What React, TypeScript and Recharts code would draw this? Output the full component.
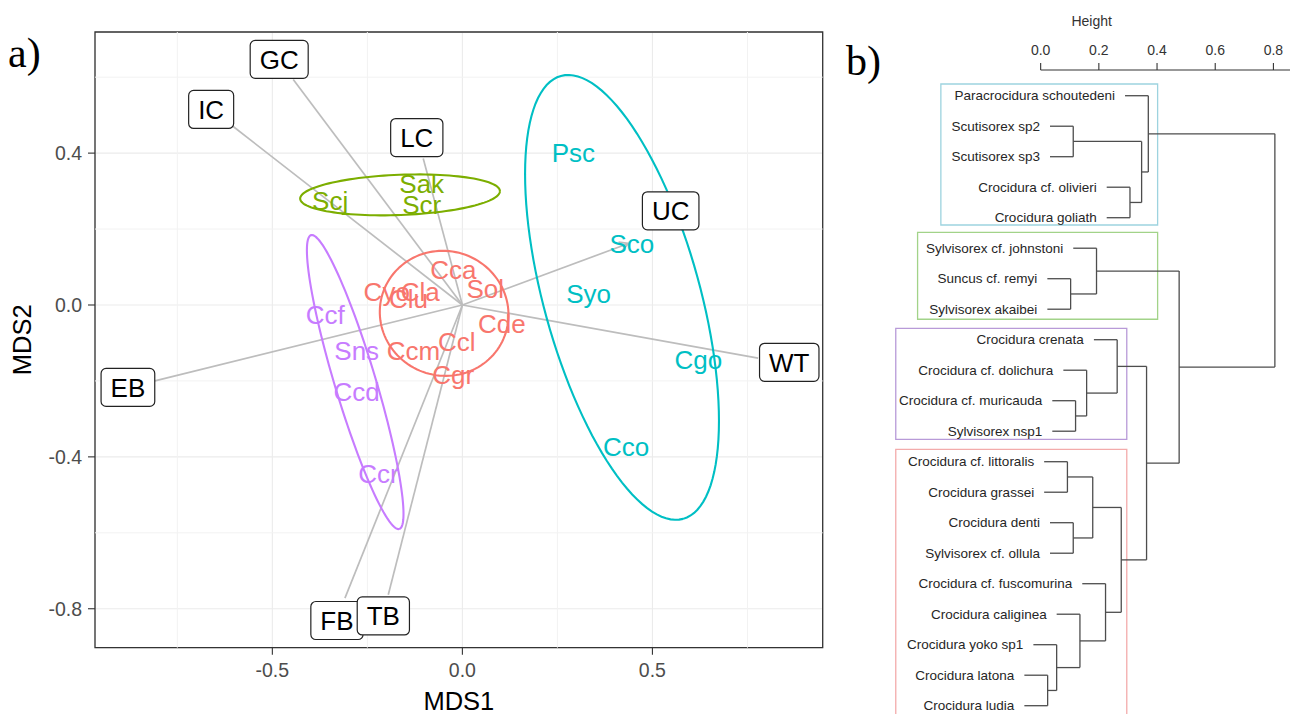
import {
  ComposedChart,
  Scatter,
  XAxis,
  YAxis,
  CartesianGrid,
  ReferenceLine,
  ReferenceArea,
} from 'recharts'

const FONT = '"Liberation Sans", Arial, sans-serif'
const SERIF = '"Liberation Serif", "Times New Roman", serif'

// ---------- a) NMDS biplot ----------
const groupColors = ['#F8766D', '#7CAE00', '#00BFC4', '#C77CFF']

const speciesNames = [
  'Psc', 'Sco', 'Syo', 'Cgo', 'Cco',
  'Scj', 'Sak', 'Scr',
  'Ccf', 'Sns', 'Ccd', 'Ccr',
  'Cca', 'Sol', 'Cyo', 'Cla', 'Clu', 'Cde', 'Ccl', 'Ccm', 'Cgr',
]
const speciesX = [
  0.292, 0.446, 0.332, 0.621, 0.431,
  -0.348, -0.107, -0.107,
  -0.361, -0.278, -0.278, -0.221,
  -0.024, 0.06, -0.199, -0.111, -0.142, 0.104, -0.015, -0.129, -0.024,
]
const speciesY = [
  0.4, 0.162, 0.029, -0.144, -0.373,
  0.276, 0.32, 0.263,
  -0.026, -0.119, -0.228, -0.445,
  0.092, 0.044, 0.035, 0.035, 0.018, -0.048, -0.097, -0.119, -0.184,
]
const speciesGroup = [
  2, 2, 2, 2, 2,
  1, 1, 1,
  3, 3, 3, 3,
  0, 0, 0, 0, 0, 0, 0, 0, 0,
]

// group ellipses: centre, semi axes, rotation (deg)
const ellipseCx = [-0.048, -0.164, 0.42, -0.282]
const ellipseCy = [-0.022, 0.29, 0.02, -0.203]
const ellipseA = [0.17, 0.263, 0.605, 0.404]
const ellipseB = [0.164, 0.053, 0.2055, 0.054]
const ellipseAngle = [-20, 2.2, -74.6, -73.3]

// fitted environmental vectors
const envNames = ['GC', 'IC', 'LC', 'UC', 'WT', 'EB', 'FB', 'TB']
const envX = [-0.445, -0.603, -0.103, 0.437, 0.778, -0.809, -0.309, -0.195]
const envY = [0.594, 0.47, 0.386, 0.162, -0.14, -0.2, -0.772, -0.763]
const envLabelX = [-0.482, -0.661, -0.12, 0.548, 0.86, -0.88, -0.33, -0.208]
const envLabelY = [0.647, 0.515, 0.441, 0.248, -0.151, -0.217, -0.831, -0.819]
const arrowHeads = ['UC']

const X_MIN = -0.9666
const X_MAX = 0.948
const Y_MIN = -0.9026
const Y_MAX = 0.719

const charW: Record<string, number> = {
  G: 0.778, C: 0.722, I: 0.278, L: 0.556, U: 0.722, W: 0.944, T: 0.611, E: 0.667, B: 0.667, F: 0.611,
}

function ellipsePoints(g: number) {
  const pts: { x: number; y: number }[] = []
  const t = (ellipseAngle[g] * Math.PI) / 180
  const n = 120
  for (let k = 0; k <= n; k++) {
    const u = (k / n) * 2 * Math.PI
    const ex = ellipseA[g] * Math.cos(u)
    const ey = ellipseB[g] * Math.sin(u)
    pts.push({
      x: ellipseCx[g] + ex * Math.cos(t) - ey * Math.sin(t),
      y: ellipseCy[g] + ex * Math.sin(t) + ey * Math.cos(t),
    })
  }
  return pts
}

const speciesData = speciesNames.map((name, i) => ({
  name,
  x: speciesX[i],
  y: speciesY[i],
  color: groupColors[speciesGroup[i]],
}))

const envLabelData = envNames.map((name, i) => ({ name, x: envLabelX[i], y: envLabelY[i] }))

const fmt = (v: number) => v.toFixed(1)

function arrowShape(withHead: boolean) {
  return (p: any) => {
    const { x1, y1, x2, y2 } = p
    const ang = Math.atan2(y2 - y1, x2 - x1)
    const len = 10
    const w = (28 * Math.PI) / 180
    return (
      <g>
        <line x1={x1} y1={y1} x2={x2} y2={y2} stroke="#bdbdbd" strokeWidth={1.7} />
        {withHead && (
          <path
            d={`M${x2 - len * Math.cos(ang - w)},${y2 - len * Math.sin(ang - w)} L${x2},${y2} L${x2 - len * Math.cos(ang + w)},${y2 - len * Math.sin(ang + w)}`}
            fill="none"
            stroke="#bdbdbd"
            strokeWidth={1.7}
          />
        )}
      </g>
    )
  }
}

function Biplot() {
  return (
    <ComposedChart
      width={840}
      height={714}
      margin={{ top: 32, right: 17.3, bottom: 26.3, left: 35 }}
      style={{ fontFamily: FONT }}
    >
      <CartesianGrid stroke="#ebebeb" strokeWidth={1.1} />
      {[-0.75, -0.25, 0.25, 0.75].map((v) => (
        <ReferenceLine key={`mx${v}`} x={v} stroke="#f2f2f2" strokeWidth={1} />
      ))}
      {[-0.6, -0.2, 0.2, 0.6].map((v) => (
        <ReferenceLine key={`my${v}`} y={v} stroke="#f2f2f2" strokeWidth={1} />
      ))}
      <XAxis
        type="number"
        dataKey="x"
        domain={[X_MIN, X_MAX]}
        allowDataOverflow
        ticks={[-0.5, 0, 0.5]}
        tickFormatter={fmt}
        height={40}
        axisLine={false}
        tickSize={7}
        tickMargin={8}
        tick={{ fontSize: 19.5, fill: '#4d4d4d' }}
        tickLine={{ stroke: '#333', strokeWidth: 1.1 }}
        label={{ value: 'MDS1', position: 'bottom', offset: 4, fontSize: 25.5, fill: '#000' }}
      />
      <YAxis
        type="number"
        dataKey="y"
        domain={[Y_MIN, Y_MAX]}
        allowDataOverflow
        ticks={[-0.8, -0.4, 0, 0.4]}
        tickFormatter={fmt}
        width={60}
        axisLine={false}
        tickSize={7}
        tickMargin={6}
        tick={{ fontSize: 19.5, fill: '#4d4d4d' }}
        tickLine={{ stroke: '#333', strokeWidth: 1.1 }}
        label={{
          content: (p: any) => {
            const vb = p.viewBox || { x: 35, y: 32, width: 60, height: 615.7 }
            const cx = vb.x - 4
            const cy = vb.y + vb.height / 2
            return (
              <text
                transform={`translate(${cx},${cy}) rotate(-90)`}
                textAnchor="middle"
                fontSize={25.5}
                fill="#000"
              >
                MDS2
              </text>
            )
          },
        }}
      />
      {groupColors.map((c, g) => (
        <Scatter
          key={`ell${g}`}
          data={ellipsePoints(g)}
          line={{ stroke: c, strokeWidth: 2.1 }}
          shape={() => <g />}
          isAnimationActive={false}
          legendType="none"
        />
      ))}
      {envNames.map((n, i) => (
        <ReferenceLine
          key={`vec${n}`}
          segment={[
            { x: 0, y: 0 },
            { x: envX[i], y: envY[i] },
          ]}
          ifOverflow="visible"
          shape={arrowShape(arrowHeads.includes(n))}
        />
      ))}
      <Scatter
        data={speciesData}
        isAnimationActive={false}
        shape={(p: any) => (
          <text
            x={p.cx}
            y={p.cy}
            dy="0.36em"
            textAnchor="middle"
            fontSize={26}
            fill={p.payload.color}
          >
            {p.payload.name}
          </text>
        )}
      />
      <Scatter
        data={envLabelData}
        isAnimationActive={false}
        shape={(p: any) => {
          const name: string = p.payload.name
          const tw = name.split('').reduce((s, ch) => s + (charW[ch] ?? 0.7), 0) * 26
          const w = tw + 19
          const h = 38
          return (
            <g>
              <rect
                x={p.cx - w / 2}
                y={p.cy - h / 2}
                width={w}
                height={h}
                rx={5}
                fill="#fff"
                stroke="#222"
                strokeWidth={1.2}
              />
              <text x={p.cx} y={p.cy} dy="0.36em" textAnchor="middle" fontSize={26} fill="#000">
                {name}
              </text>
            </g>
          )
        }}
      />
      <ReferenceArea
        x1={X_MIN}
        x2={X_MAX}
        y1={Y_MIN}
        y2={Y_MAX}
        fill="none"
        fillOpacity={0}
        stroke="#333"
        strokeWidth={1.3}
        ifOverflow="visible"
      />
    </ComposedChart>
  )
}

// ---------- b) dendrogram ----------
const leafNames = [
  'Paracrocidura schoutedeni',
  'Scutisorex sp2',
  'Scutisorex sp3',
  'Crocidura cf. olivieri',
  'Crocidura goliath',
  'Sylvisorex cf. johnstoni',
  'Suncus cf. remyi',
  'Sylvisorex akaibei',
  'Crocidura crenata',
  'Crocidura cf. dolichura',
  'Crocidura cf. muricauda',
  'Sylvisorex nsp1',
  'Crocidura cf. littoralis',
  'Crocidura grassei',
  'Crocidura denti',
  'Sylvisorex cf. ollula',
  'Crocidura cf. fuscomurina',
  'Crocidura caliginea',
  'Crocidura yoko sp1',
  'Crocidura latona',
  'Crocidura ludia',
]

// hclust-style merge table: negative = leaf (1-based), positive = earlier merge
const mergeLeft = [-20, -19, -13, -7, -2, -15, -11, -18, -10, 3, -6, -17, -9, 10, -4, 5, 13, -1, 11, 18]
const mergeRight = [-21, 1, -14, -8, -3, -16, -12, 2, 7, 6, 4, 8, 9, 12, -5, 15, 14, 16, 17, 19]
const mergeHeight = [
  0.024, 0.055, 0.092, 0.103, 0.112, 0.112, 0.12, 0.135, 0.158, 0.179,
  0.192, 0.223, 0.263, 0.277, 0.307, 0.347, 0.364, 0.37, 0.476, 0.805,
]
const HANG = 0.08

// coloured group frames (height units / leaf rows)
const boxColors = ['#9dd3df', '#a2d389', '#b89ad8', '#f3abab']
const boxX1 = [-0.343, -0.423, -0.498, -0.498]
const boxX2 = [0.402, 0.402, 0.296, 0.296]
const boxY1 = [0.616, 5.478, 8.626, 12.593]
const boxY2 = [5.239, 8.33, 12.266, 21.8]

const DX_MIN = -0.535
const DX_MAX = 0.857
const DY_MIN = 0.157
const DY_MAX = 21.272

const nodeY: number[] = []
const yOf = (id: number) => (id < 0 ? -id : nodeY[id - 1])
const leafParentH: number[] = []
const segments: { x1: number; y1: number; x2: number; y2: number }[] = []
mergeHeight.forEach((h, i) => {
  const a = mergeLeft[i]
  const b = mergeRight[i]
  nodeY[i] = (yOf(a) + yOf(b)) / 2
  segments.push({ x1: h, y1: yOf(a), x2: h, y2: yOf(b) })
  ;[a, b].forEach((c) => {
    const from = c < 0 ? h - HANG : mergeHeight[c - 1]
    if (c < 0) leafParentH[-c - 1] = h
    segments.push({ x1: from, y1: yOf(c), x2: h, y2: yOf(c) })
  })
})

const leafData = leafNames.map((name, i) => ({ name, x: leafParentH[i] - HANG, y: i + 1 }))

function Dendrogram() {
  return (
    <ComposedChart
      width={415}
      height={714}
      margin={{ top: 0, right: 5, bottom: 0, left: 5 }}
      style={{ fontFamily: FONT }}
    >
      <XAxis
        type="number"
        dataKey="x"
        orientation="top"
        domain={[DX_MIN, DX_MAX]}
        allowDataOverflow
        ticks={[0, 0.2, 0.4, 0.6, 0.8]}
        tickFormatter={fmt}
        height={70}
        axisLine={false}
        tickSize={7}
        tickMargin={8}
        tick={{ fontSize: 14, fill: '#333' }}
        tickLine={{ stroke: '#333', strokeWidth: 1.1 }}
        label={{
          content: (p: any) => {
            const vb = p.viewBox || { x: 5 }
            return (
              <text x={vb.x + 206.7} y={26} textAnchor="middle" fontSize={14} fill="#333">
                Height
              </text>
            )
          },
        }}
      />
      <YAxis type="number" dataKey="y" domain={[DY_MIN, DY_MAX]} reversed allowDataOverflow hide />
      <ReferenceLine
        segment={[
          { x: 0, y: DY_MIN },
          { x: DX_MAX, y: DY_MIN },
        ]}
        stroke="#333"
        strokeWidth={1.1}
        ifOverflow="visible"
      />
      {boxColors.map((c, i) => (
        <ReferenceArea
          key={`box${i}`}
          x1={boxX1[i]}
          x2={boxX2[i]}
          y1={boxY1[i]}
          y2={boxY2[i]}
          fill="none"
          fillOpacity={0}
          stroke={c}
          strokeWidth={1.3}
          ifOverflow="visible"
        />
      ))}
      {segments.map((s, i) => (
        <ReferenceLine
          key={`seg${i}`}
          segment={[
            { x: s.x1, y: s.y1 },
            { x: s.x2, y: s.y2 },
          ]}
          stroke="#4d4d4d"
          strokeWidth={1.3}
          ifOverflow="visible"
        />
      ))}
      <Scatter
        data={leafData}
        isAnimationActive={false}
        shape={(p: any) => (
          <text x={p.cx - 10} y={p.cy} dy={4.7} textAnchor="end" fontSize={13.5} fill="#262626">
            {p.payload.name}
          </text>
        )}
      />
    </ComposedChart>
  )
}

export default function App() {
  return (
    <div
      style={{
        position: 'absolute',
        left: 0,
        top: 0,
        width: 1295,
        height: 714,
        background: '#fff',
        overflow: 'hidden',
      }}
    >
      <div style={{ position: 'absolute', left: 0, top: 0 }}>
        <Biplot />
      </div>
      <div style={{ position: 'absolute', left: 880, top: 0 }}>
        <Dendrogram />
      </div>
      <div
        style={{
          position: 'absolute',
          left: 8,
          top: 31.5,
          fontFamily: SERIF,
          fontSize: 42,
          lineHeight: '42px',
          color: '#000',
        }}
      >
        a)
      </div>
      <div
        style={{
          position: 'absolute',
          left: 846,
          top: 39.8,
          fontFamily: SERIF,
          fontSize: 42,
          lineHeight: '42px',
          color: '#000',
        }}
      >
        b)
      </div>
    </div>
  )
}
